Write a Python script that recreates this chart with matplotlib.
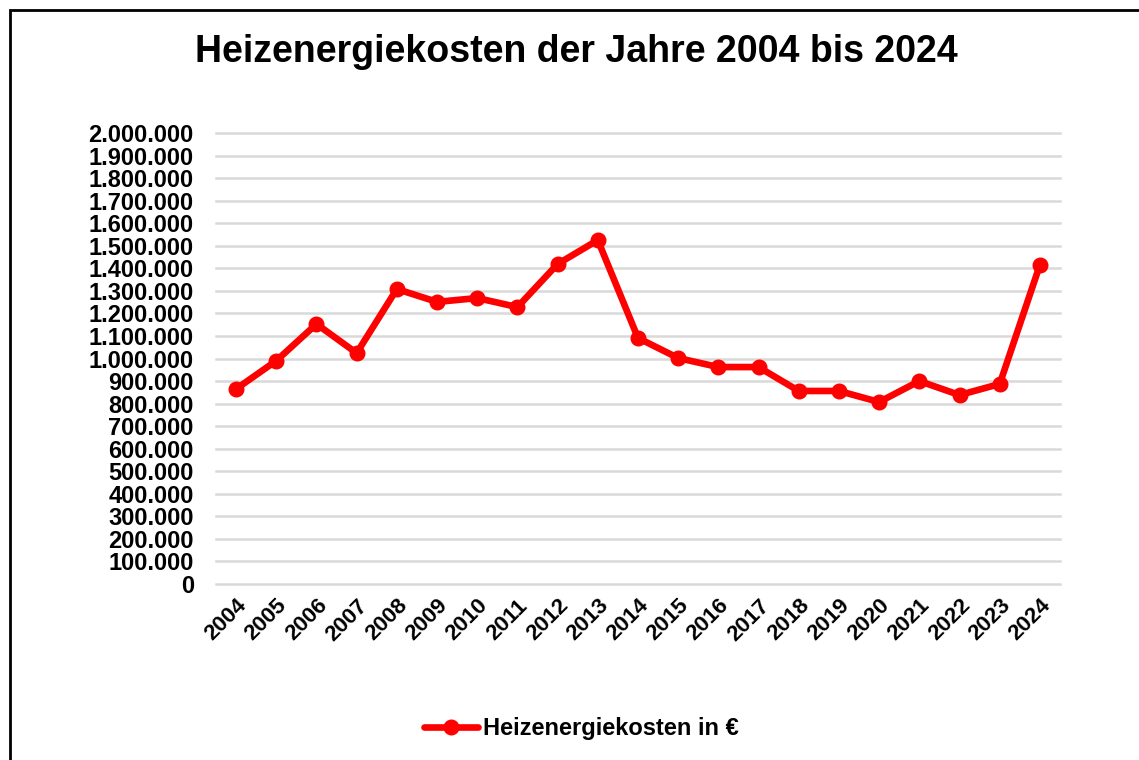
import matplotlib.pyplot as plt
from matplotlib.patches import Rectangle
from matplotlib.ticker import FuncFormatter

plt.rcParams['font.family'] = ['Liberation Sans', 'DejaVu Sans']

# data
jahre = [str(j) for j in range(2004, 2025)]
kosten = [865000, 990000, 1153000, 1024000, 1308000, 1251000, 1268000, 1228000,
          1419000, 1525000, 1091000, 1002000, 962000, 962000, 856000, 856000,
          807000, 900000, 838000, 887000, 1415000]

fig = plt.figure(figsize=(11.39, 7.6), dpi=100)
ax = fig.add_axes([216/1139, 1 - 584/760, (1060-216)/1139, (584-133)/760])

x = range(len(jahre))
ax.plot(x, kosten, color='#ff0000', lw=4.8, marker='o', markersize=10.5,
        label='Heizenergiekosten in €', solid_capstyle='round', zorder=3)

ax.set_xlim(-0.5, len(jahre) - 0.5)
ax.set_ylim(0, 2000000)
ax.set_yticks(range(0, 2000001, 100000))
ax.yaxis.set_major_formatter(FuncFormatter(lambda v, p: f'{int(v):,}'.replace(',', '.')))
ax.set_xticks(list(x))
ax.set_xticklabels(jahre, rotation=45, ha='right', rotation_mode='anchor')
ax.grid(axis='y', color='#d9d9d9', lw=1.8)
ax.set_axisbelow(True)
for g in ax.yaxis.get_gridlines():
    g.set_clip_on(False)
for s in ax.spines.values():
    s.set_visible(False)
ax.tick_params(length=0)
ax.tick_params(axis='y', labelsize=17, pad=16)
ax.tick_params(axis='x', labelsize=16, pad=8)
for lbl in ax.get_xticklabels() + ax.get_yticklabels():
    lbl.set_fontweight('bold')

fig.text(0.506, 1 - 52/760, 'Heizenergiekosten der Jahre 2004 bis 2024',
         ha='center', va='center', fontsize=27, fontweight='bold')

fig.legend(loc='center', bbox_to_anchor=(0.51, 1 - 729/760), frameon=False,
           prop={'weight': 'bold', 'size': 17}, handlelength=2.3, handletextpad=0.2)

# outer frame of the chart
fig.patches.append(Rectangle((10/1139, -0.1), 1.2, 1 - 10/760 + 0.1,
                             transform=fig.transFigure, fill=False,
                             edgecolor='black', lw=2))

fig.savefig('out.png', dpi=100)
